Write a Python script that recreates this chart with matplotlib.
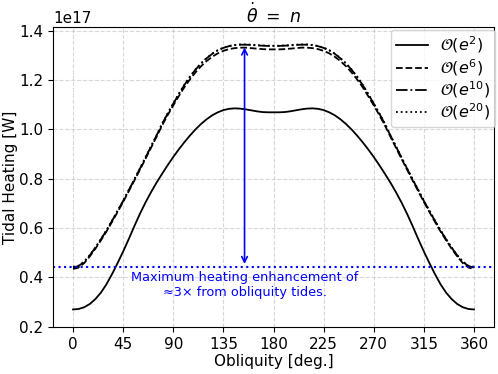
import matplotlib
matplotlib.use('Agg')
import matplotlib.pyplot as plt
import numpy as np

# Obliquity grid [deg.] and tidal heating [1e17 W]
obliquity = np.arange(0, 365, 5)

heat_e2 = [0.270, 0.272, 0.279, 0.292, 0.312, 0.338, 0.372, 0.413, 0.458, 0.505,
           0.555, 0.607, 0.657, 0.703, 0.745, 0.784, 0.820, 0.855, 0.888, 0.919,
           0.948, 0.975, 1.000, 1.022, 1.041, 1.057, 1.069, 1.078, 1.083, 1.085,
           1.084, 1.081, 1.077, 1.073, 1.070, 1.069, 1.069, 1.069, 1.070, 1.073,
           1.077, 1.081, 1.084, 1.085, 1.083, 1.078, 1.069, 1.057, 1.041, 1.022,
           1.000, 0.975, 0.948, 0.919, 0.888, 0.855, 0.820, 0.784, 0.745, 0.703,
           0.657, 0.607, 0.555, 0.505, 0.458, 0.413, 0.372, 0.338, 0.312, 0.292,
           0.279, 0.272, 0.270]

heat_e6 = [0.434, 0.440, 0.458, 0.485, 0.516, 0.550, 0.586, 0.625, 0.665, 0.706,
           0.749, 0.792, 0.836, 0.880, 0.925, 0.970, 1.016, 1.058, 1.097, 1.135,
           1.171, 1.203, 1.231, 1.256, 1.277, 1.294, 1.308, 1.318, 1.325, 1.329,
           1.331, 1.331, 1.329, 1.327, 1.325, 1.324, 1.324, 1.324, 1.325, 1.327,
           1.329, 1.331, 1.331, 1.329, 1.325, 1.318, 1.308, 1.294, 1.277, 1.256,
           1.231, 1.203, 1.171, 1.135, 1.097, 1.058, 1.016, 0.970, 0.925, 0.880,
           0.836, 0.792, 0.749, 0.706, 0.665, 0.625, 0.586, 0.550, 0.516, 0.485,
           0.458, 0.440, 0.434]

heat_e10 = [0.440, 0.446, 0.463, 0.489, 0.520, 0.554, 0.590, 0.629, 0.669, 0.710,
            0.753, 0.796, 0.840, 0.885, 0.930, 0.975, 1.022, 1.064, 1.104, 1.143,
            1.180, 1.213, 1.242, 1.267, 1.288, 1.306, 1.320, 1.330, 1.337, 1.341,
            1.343, 1.343, 1.342, 1.340, 1.339, 1.338, 1.338, 1.338, 1.339, 1.340,
            1.342, 1.343, 1.343, 1.341, 1.337, 1.330, 1.320, 1.306, 1.288, 1.267,
            1.242, 1.213, 1.180, 1.143, 1.104, 1.064, 1.022, 0.975, 0.930, 0.885,
            0.840, 0.796, 0.753, 0.710, 0.669, 0.629, 0.590, 0.554, 0.520, 0.489,
            0.463, 0.446, 0.440]

heat_e20 = [0.443, 0.447, 0.464, 0.490, 0.521, 0.555, 0.591, 0.630, 0.670, 0.711,
            0.754, 0.797, 0.841, 0.886, 0.931, 0.976, 1.023, 1.065, 1.105, 1.144,
            1.181, 1.214, 1.243, 1.268, 1.289, 1.307, 1.321, 1.331, 1.338, 1.342,
            1.344, 1.344, 1.343, 1.341, 1.340, 1.339, 1.339, 1.339, 1.340, 1.341,
            1.343, 1.344, 1.344, 1.342, 1.338, 1.331, 1.321, 1.307, 1.289, 1.268,
            1.243, 1.214, 1.181, 1.144, 1.105, 1.065, 1.023, 0.976, 0.931, 0.886,
            0.841, 0.797, 0.754, 0.711, 0.670, 0.630, 0.591, 0.555, 0.521, 0.490,
            0.464, 0.447, 0.443]

labels = [r'$\mathcal{O}(e^{2})$', r'$\mathcal{O}(e^{6})$',
          r'$\mathcal{O}(e^{10})$', r'$\mathcal{O}(e^{20})$']
styles = ['-', '--', '-.', ':']

scale = 1e17
min_heat = 0.443   # zero-obliquity level (dotted blue line)
max_heat = 1.343   # peak of the high-order curves
peak_obl = 154

fig, ax = plt.subplots(figsize=(4.98, 3.74), dpi=100)
fig.subplots_adjust(left=0.1064, right=0.992, bottom=0.1257, top=0.928)

for series, ls, lab in zip([heat_e2, heat_e6, heat_e10, heat_e20], styles, labels):
    ax.plot(obliquity, np.array(series) * scale, color='k', ls=ls, lw=1.3, label=lab)

ax.axhline(min_heat * scale, color='blue', ls=':', lw=1.5)
ax.annotate('', xy=(peak_obl, max_heat * scale), xytext=(peak_obl, min_heat * scale),
            arrowprops=dict(arrowstyle='<->', color='blue', lw=1.2))
ax.text(peak_obl, 0.369 * scale,
        'Maximum heating enhancement of\n\u22483\u00d7 from obliquity tides.',
        color='blue', fontsize=9.3, ha='center', va='center', multialignment='center')

ax.set_xticks(np.arange(0, 361, 45))
ax.set_ylim(0.199 * scale, 1.415 * scale)
ax.tick_params(labelsize=11)
ax.yaxis.get_offset_text().set_fontsize(11)
ax.grid(True, ls='--', alpha=0.5)
ax.set_xlabel('Obliquity [deg.]', fontsize=11, labelpad=2)
ax.set_ylabel('Tidal Heating [W]', fontsize=11, labelpad=0.5)
ax.set_title(r'$\dot{\theta}\ =\ n$', fontsize=12.5, pad=3)
ax.legend(loc='upper right', fontsize=11.5, bbox_to_anchor=(1.003, 0.99),
          borderaxespad=0, labelspacing=0.1, borderpad=0.3, handlelength=2.0)

fig.savefig('out.png', dpi=100)
